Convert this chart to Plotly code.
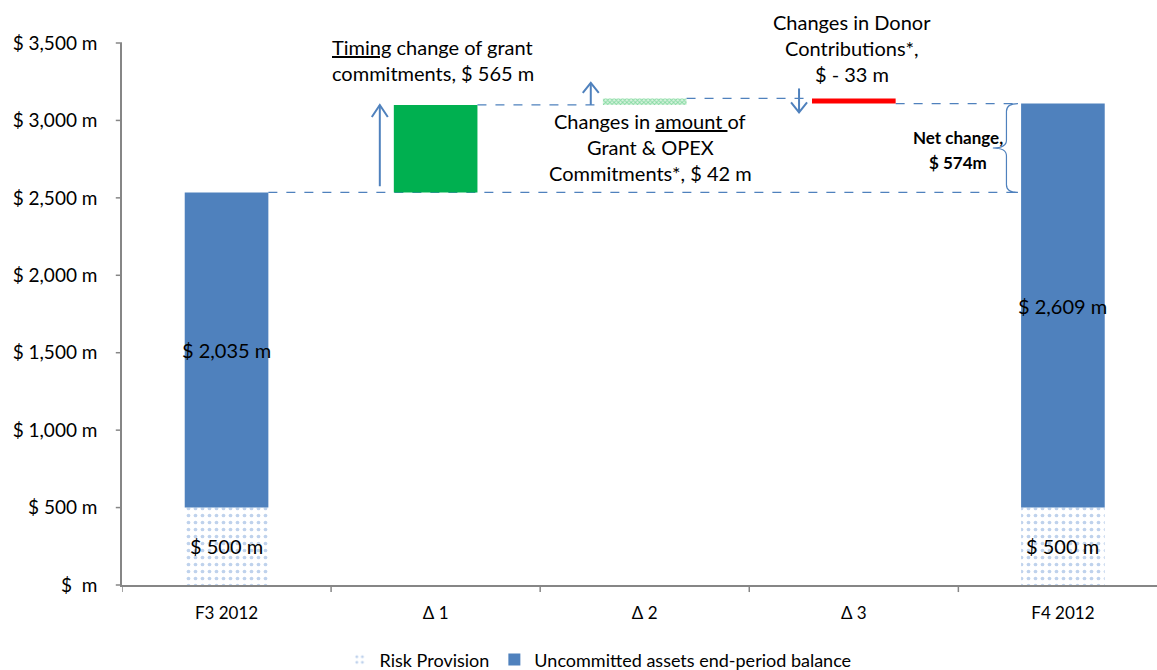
import plotly.graph_objects as go

# ---- data -----------------------------------------------------------------
categories = ["F3 2012", "\u0394 1", "\u0394 2", "\u0394 3", "F4 2012"]
risk_provision = [500, 500]            # F3 2012, F4 2012
uncommitted = [2035, 2609]             # F3 2012, F4 2012
delta_changes = [565, 42, -33]         # Δ 1, Δ 2, Δ 3
y_ticks = [0, 500, 1000, 1500, 2000, 2500, 3000, 3500]
y_tick_labels = ["$  m", "$ 500 m", "$ 1,000 m", "$ 1,500 m", "$ 2,000 m",
                 "$ 2,500 m", "$ 3,000 m", "$ 3,500 m"]

BLUE = "#4F81BD"
GREEN = "#00B050"
RED = "#FF0000"
FONT = "Lato"
BAR_W = 0.4
Y_MAX = y_ticks[-1]

xs = list(range(len(categories)))
end_x = [xs[0], xs[-1]]
delta_x = xs[1:4]

# running totals for the waterfall steps
start_total = risk_provision[0] + uncommitted[0]
bases = []
level = start_total
for d in delta_changes:
    bases.append(level)
    level += d
end_total = risk_provision[1] + uncommitted[1]

fig = go.Figure()

fig.add_trace(go.Bar(
    x=end_x, y=risk_provision, width=BAR_W, name="Risk Provision",
    marker=dict(color="white", line=dict(width=0),
                pattern=dict(shape=".", fgcolor="#7FA6D9", bgcolor="white",
                             size=7, solidity=0.22)),
))
fig.add_trace(go.Bar(
    x=end_x, y=uncommitted, base=risk_provision, width=BAR_W,
    name="Uncommitted assets end-period balance",
    marker=dict(color=BLUE, line=dict(width=0)),
))
fig.add_trace(go.Bar(
    x=[delta_x[0]], y=[delta_changes[0]], base=[bases[0]], width=BAR_W,
    marker=dict(color=GREEN, line=dict(width=0)), showlegend=False,
))
fig.add_trace(go.Bar(
    x=[delta_x[1]], y=[delta_changes[1]], base=[bases[1]], width=BAR_W,
    marker=dict(color="#CDEFD6", line=dict(width=0),
                pattern=dict(shape="x", fgcolor="#2FBF64", bgcolor="#D9F4DF",
                             size=3, solidity=0.5)),
    showlegend=False,
))
fig.add_trace(go.Bar(
    x=[delta_x[2]], y=[delta_changes[2]], base=[bases[2]], width=BAR_W,
    marker=dict(color=RED, line=dict(width=0)), showlegend=False,
))

shapes = []
dash_line = dict(color=BLUE, width=1.3, dash="dash")

# connector from the opening balance to the closing bar
shapes.append(dict(type="line", xref="x", yref="y",
                   x0=xs[0] + BAR_W / 2, x1=xs[-1] - BAR_W / 2 + 0.03,
                   y0=start_total, y1=start_total, line=dash_line, layer="below"))
# connectors between successive steps
levels_after = [bases[1], bases[2], end_total]
for i, lv in enumerate(levels_after):
    shapes.append(dict(type="line", xref="x", yref="y",
                       x0=delta_x[i] + BAR_W / 2, x1=xs[i + 2] - BAR_W / 2,
                       y0=lv, y1=lv, line=dash_line, layer="below"))

arrow_line = dict(color=BLUE, width=2)


def arrow_head(x, y, up=True):
    s = -1 if up else 1
    return dict(type="path", xref="x", yref="y", xsizemode="pixel", ysizemode="pixel",
                xanchor=x, yanchor=y,
                path=f"M -8,{s * 12} L 0,0 L 8,{s * 12}", line=arrow_line)


# Δ 1 arrow: spans the full step
ax1 = delta_x[0] - BAR_W / 2 - 0.067
shapes.append(dict(type="line", xref="x", yref="y", x0=ax1, x1=ax1,
                   y0=bases[0] + 40, y1=bases[0] + delta_changes[0], line=arrow_line))
shapes.append(arrow_head(ax1, bases[0] + delta_changes[0], up=True))

# Δ 2 arrow: short upward marker
ax2 = delta_x[1] - BAR_W / 2 - 0.058
shapes.append(dict(type="path", xref="x", yref="y", xsizemode="pixel", ysizemode="pixel",
                   xanchor=ax2, yanchor=bases[1],
                   path="M 0,0 L 0,22", line=arrow_line))
shapes.append(dict(type="path", xref="x", yref="y", xsizemode="pixel", ysizemode="pixel",
                   xanchor=ax2, yanchor=bases[1],
                   path="M -8,12 L 0,22 L 8,12", line=arrow_line))

# Δ 3 arrow: short downward marker
ax3 = delta_x[2] - BAR_W / 2 - 0.062
shapes.append(dict(type="path", xref="x", yref="y", xsizemode="pixel", ysizemode="pixel",
                   xanchor=ax3, yanchor=bases[2],
                   path="M 0,10 L 0,-14", line=arrow_line))
shapes.append(dict(type="path", xref="x", yref="y", xsizemode="pixel", ysizemode="pixel",
                   xanchor=ax3, yanchor=bases[2],
                   path="M -8,-4 L 0,-14 L 8,-4", line=arrow_line))

# brace marking the net change
bx_tip, bx_v, bx_n = xs[-1] - 0.215, xs[-1] - 0.27, xs[-1] - 0.335
top, bot = end_total, start_total
mid = (top + bot) / 2
r = 50
brace = (f"M {bx_tip},{top} Q {bx_v},{top} {bx_v},{top - r} "
         f"L {bx_v},{mid + r} Q {bx_v},{mid} {bx_n},{mid} "
         f"Q {bx_v},{mid} {bx_v},{mid - r} "
         f"L {bx_v},{bot + r} Q {bx_v},{bot} {bx_tip},{bot}")
shapes.append(dict(type="path", xref="x", yref="y", path=brace,
                   line=dict(color=BLUE, width=1.2)))

# category boundary tick marks below the x axis
for b in [-0.5, 0.5, 1.5, 2.5, 3.5]:
    shapes.append(dict(type="line", xref="x", yref="paper", x0=b, x1=b,
                       y0=0, y1=-0.013, line=dict(color="#868686", width=1.5)))
# value tick marks left of the y axis (paper coordinates so they are not clipped)
for t in y_ticks:
    shapes.append(dict(type="line", xref="paper", yref="paper", x0=-0.006, x1=0,
                       y0=t / Y_MAX, y1=t / Y_MAX,
                       line=dict(color="#868686", width=1.5)))

annotations = []
txt_font = dict(family=FONT, size=20, color="black")


def text_block(lines, x, y, xanchor="center", font=txt_font, spacing=26):
    n = len(lines)
    for i, line in enumerate(lines):
        annotations.append(dict(
            x=x, y=y, xref="x", yref="y", text=line, showarrow=False,
            xanchor=xanchor, yanchor="middle", font=font,
            yshift=((n - 1) / 2 - i) * spacing))


text_block(["<u>Timing</u> change of grant", "commitments, $ 565 m"],
           x=0.495, y=3390, xanchor="left")
text_block(["Changes in <u>amount </u>of", "Grant & OPEX",
            "Commitments*, $ 42 m"], x=2.026, y=2828)
text_block(["Changes in Donor", "Contributions*,", "$ - 33 m"], x=2.99, y=3465)
text_block(["<b>Net change,</b>", "<b>$ 574m</b>"], x=3.50, y=2808,
           font=dict(family=FONT, size=17, color="black"), spacing=25)

# value labels inside the balance bars
for i, x in enumerate(end_x):
    annotations.append(dict(x=x, y=risk_provision[i] / 2, xref="x", yref="y",
                            text=f"$ {risk_provision[i]:,} m", showarrow=False,
                            font=txt_font))
    annotations.append(dict(x=x, y=risk_provision[i] + uncommitted[i] / 2,
                            xref="x", yref="y",
                            text=f"$ {uncommitted[i]:,} m", showarrow=False,
                            font=txt_font))

fig.update_layout(
    width=1157, height=670,
    margin=dict(l=122, r=0, t=43, b=85, autoexpand=False),
    plot_bgcolor="white", paper_bgcolor="white",
    barmode="overlay",
    font=dict(family=FONT, size=18, color="black"),
    shapes=shapes, annotations=annotations,
    legend=dict(orientation="h", x=0.46, xanchor="center", y=-0.138,
                yanchor="middle", font=dict(family=FONT, size=18),
                itemwidth=30, traceorder="normal"),
)
# transparent ticks act as spacers between axis line and labels
fig.update_xaxes(
    range=[-0.5, 4.45], tickvals=xs, ticktext=categories,
    ticks="outside", ticklen=12, tickcolor="rgba(0,0,0,0)",
    showline=True, linecolor="#868686", linewidth=1.5, showgrid=False,
    zeroline=False, tickfont=dict(family=FONT, size=17), automargin=False,
)
fig.update_yaxes(
    range=[0, Y_MAX], tickvals=y_ticks, ticktext=y_tick_labels,
    ticks="outside", ticklen=19, tickcolor="rgba(0,0,0,0)",
    showline=True, linecolor="#868686", linewidth=1.5, showgrid=False,
    zeroline=False, tickfont=dict(family=FONT, size=19), automargin=False,
)

fig.write_html("out.html")
